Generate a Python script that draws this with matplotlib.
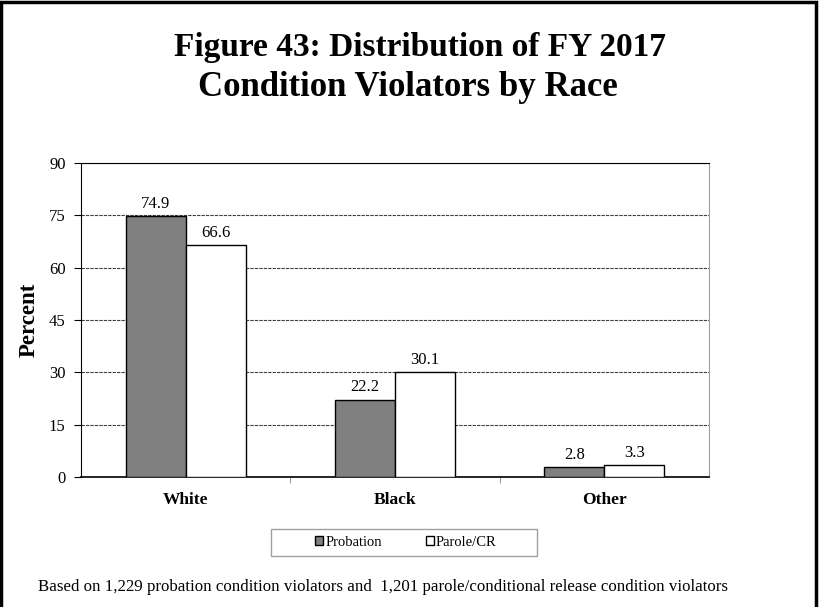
import matplotlib.pyplot as plt
from matplotlib.patches import Rectangle, Patch
import numpy as np

categories = ["White", "Black", "Other"]
probation = [74.9, 22.2, 2.8]
parole = [66.6, 30.1, 3.3]
yticks = [0, 15, 30, 45, 60, 75, 90]

plt.rcParams['font.family'] = ['Liberation Serif', 'DejaVu Serif']

fig = plt.figure(figsize=(8.2, 6.07), dpi=100)
W, H = 820, 607
# axes: left 81, right 709, top 163, bottom 477 (pixels)
ax = fig.add_axes([81 / W, 1 - 477 / H, (709 - 81) / W, (477 - 163) / H])

x = np.arange(len(categories))
w = 0.287
b1 = ax.bar(x - w / 2, probation, w, color='#808080', edgecolor='black', linewidth=1, zorder=3)
b2 = ax.bar(x + w / 2, parole, w, color='white', edgecolor='black', linewidth=1, zorder=3)

for bars, vals in [(b1, probation), (b2, parole)]:
    for r, v in zip(bars, vals):
        ax.annotate(f"{v:.1f}", (r.get_x() + r.get_width() / 2, v), xytext=(0, 5.8),
                    textcoords='offset points', ha='center', va='baseline', fontsize=12)

ax.set_xlim(-0.5, 2.5)
ax.set_ylim(0, 90)
ax.set_yticks(yticks)
ax.set_yticklabels([str(t) for t in yticks], fontsize=12)
ax.yaxis.grid(True, color='#404040', linewidth=0.8, linestyle=(0, (3, 1)), zorder=0)
ax.set_xticks([0.5, 1.5], minor=True)
ax.set_xticks(x)
ax.set_xticklabels(categories, fontsize=12.5, fontweight='bold')
ax.tick_params(axis='x', which='major', length=0, pad=11)
ax.tick_params(axis='x', which='minor', length=4, color='#808080', direction='out')
ax.tick_params(axis='y', length=5, direction='out', pad=6)
ax.set_ylabel('Percent', fontsize=16.5, fontweight='bold', labelpad=7)

ax.spines['left'].set_color('black')
ax.spines['bottom'].set_color('black')
ax.spines['bottom'].set_linewidth(1.2)
ax.spines['top'].set_color('black')
ax.spines['right'].set_color('#a0a0a0')

fig.text(420 / W, 1 - 56 / H, "Figure 43: Distribution of FY 2017", ha='center', va='baseline',
         fontsize=24, fontweight='bold')
fig.text(408 / W, 1 - 96 / H, "Condition Violators by Race", ha='center', va='baseline',
         fontsize=25, fontweight='bold')

# legend box drawn by hand, entries without frame
fig.patches.append(Rectangle((271 / W, 1 - 556 / H), (537 - 271) / W, (556 - 529) / H,
                             transform=fig.transFigure, fill=False, edgecolor='#a0a0a0', linewidth=1))
handles = [Patch(facecolor='#808080', edgecolor='black', label='Probation'),
           Patch(facecolor='white', edgecolor='black', label='Parole/CR')]
fig.legend(handles=handles, loc='center', bbox_to_anchor=(406 / W, 1 - 542.5 / H), ncol=2,
           frameon=False, fontsize=10.5, handlelength=0.55, handleheight=0.55,
           handletextpad=0.15, columnspacing=3.0, borderpad=0)

fig.text(38 / W, 1 - 587 / H, "Based on 1,229 probation condition violators and  1,201 parole/conditional release condition violators",
         ha='left', va='center', fontsize=12.2)

fig.patches.append(Rectangle((1.5 / W, -0.05), (816 - 1.5) / W, 1.05 - 1.5 / H, transform=fig.transFigure,
                             fill=False, edgecolor='black', linewidth=2.5))

fig.savefig('out.png', dpi=100)
